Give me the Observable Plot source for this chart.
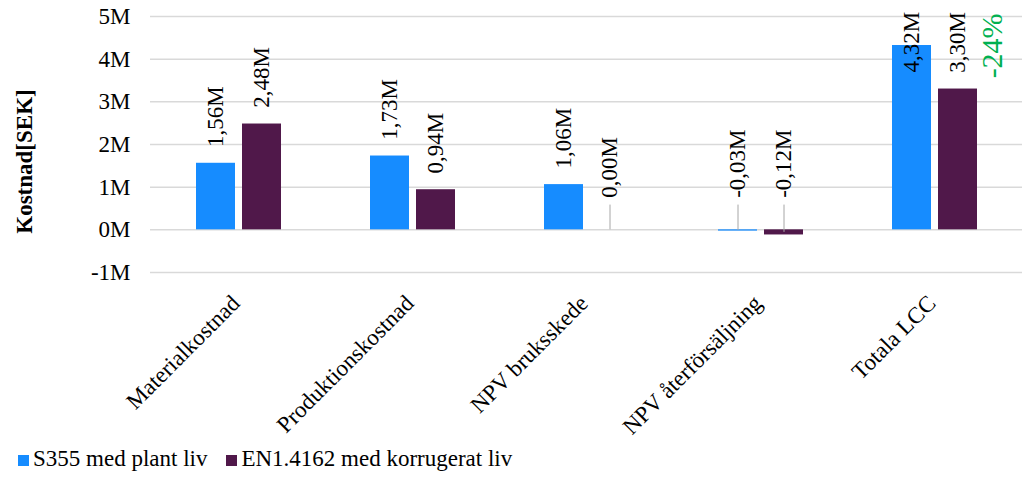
<!DOCTYPE html>
<html>
<head>
<meta charset="utf-8">
<script src="https://cdn.jsdelivr.net/npm/d3@7"></script>
<script src="https://cdn.jsdelivr.net/npm/@observablehq/plot@0.6"></script>
<style>
  html, body { margin: 0; padding: 0; background: #fff; }
  #wrap { position: relative; width: 1024px; height: 481px; font-family: "Liberation Serif"; }
  #legend { position: absolute; left: 18px; top: 446px; display: flex; align-items: baseline; font-size: 23px; color: #000; font-family: "Liberation Serif"; }
  #legend .item { display: flex; align-items: baseline; margin-right: 19px; }
  #legend .sw { display: inline-block; width: 11px; height: 11px; margin-right: 4px; }
</style>
</head>
<body>
<div id="wrap">
  <div id="chart"></div>
  <div id="legend"></div>
</div>
<script>
// ---- data (values in millions SEK) ----
const categories = ["Materialkostnad", "Produktionskostnad", "NPV bruksskede", "NPV återförsäljning", "Totala LCC"];
const seriesNames = ["S355 med plant liv", "EN1.4162 med korrugerat liv"];
const s355Values = [1.56, 1.73, 1.06, -0.03, 4.32];
const enValues = [2.48, 0.94, 0.00, -0.12, 3.30];
const yTicks = [-1, 0, 1, 2, 3, 4, 5];
const yLabel = "Kostnad[SEK]";

const FONT = "Liberation Serif";
const colors = ["#168cff", "#50184a"];
const offsets = [-23, 23];

const fmt = v => v.toFixed(2).replace(".", ",") + "M";
const labelY = v => Math.abs(v) < 0.2 ? 0.75 : Math.min(v + 0.38, 3.69);

const rows = [];
[s355Values, enValues].forEach((vals, si) => {
  vals.forEach((v, i) => rows.push({cat: categories[i], series: si, value: v}));
});
const small = rows.filter(d => Math.abs(d.value) < 0.2);
const totalIdx = categories.length - 1;
const pct = Math.round((enValues[totalIdx] - s355Values[totalIdx]) / s355Values[totalIdx] * 100);
const pctText = [{cat: categories[totalIdx], text: (pct < 0 ? "-" : "+") + Math.abs(pct) + "%"}];

const marks = [
  Plot.ruleY(yTicks, {stroke: "#d9d9d9", strokeWidth: 1.5}),
  Plot.axisY({ticks: yTicks, tickFormat: d => `${d}M`, tickSize: 0, tickPadding: 20, fontSize: 23, fontFamily: FONT, label: null}),
  Plot.axisX({tickRotate: -45, tickSize: 0, tickPadding: 14, dx: -3, dy: 13, fontSize: 23, fontFamily: FONT, label: null}),
  Plot.text([yLabel], {frameAnchor: "left", textAnchor: "middle", dx: -126, dy: 17, rotate: -90, fontWeight: "bold", fontSize: 23, fontFamily: FONT, fill: "#000"})
];
[0, 1].forEach(si => {
  const data = rows.filter(d => d.series === si);
  marks.push(Plot.barY(data, {x: "cat", y: "value", fill: colors[si], dx: offsets[si]}));
  marks.push(Plot.ruleX(small.filter(d => d.series === si), {x: "cat", y1: d => d.value / 2, y2: 0.58, dx: offsets[si], stroke: "#a6a6a6", strokeWidth: 1}));
  marks.push(Plot.text(data, {x: "cat", y: d => labelY(d.value), text: d => fmt(d.value), rotate: -90, textAnchor: "start", dx: offsets[si], fontSize: 23, fontFamily: FONT, fill: "#000"}));
});
marks.push(Plot.text(pctText, {x: "cat", y: 3.55, text: "text", rotate: -90, textAnchor: "start", dx: 57, fontSize: 30, fontFamily: FONT, fill: "#00b050"}));

const chart = Plot.plot({
  width: 1024, height: 440,
  marginLeft: 150, marginRight: 2, marginTop: 16, marginBottom: 168,
  style: {fontFamily: FONT, fontSize: "23px", color: "#000", background: "#fff"},
  x: {domain: categories, paddingInner: 0.776, paddingOuter: 0.388},
  y: {domain: [-1, 5]},
  marks
});
document.getElementById("chart").appendChild(chart);

const legend = document.getElementById("legend");
seriesNames.forEach((name, i) => {
  const item = document.createElement("span");
  item.className = "item";
  const sw = document.createElement("span");
  sw.className = "sw";
  sw.style.background = colors[i];
  item.appendChild(sw);
  item.appendChild(document.createTextNode(name));
  legend.appendChild(item);
});
</script>
</body>
</html>
